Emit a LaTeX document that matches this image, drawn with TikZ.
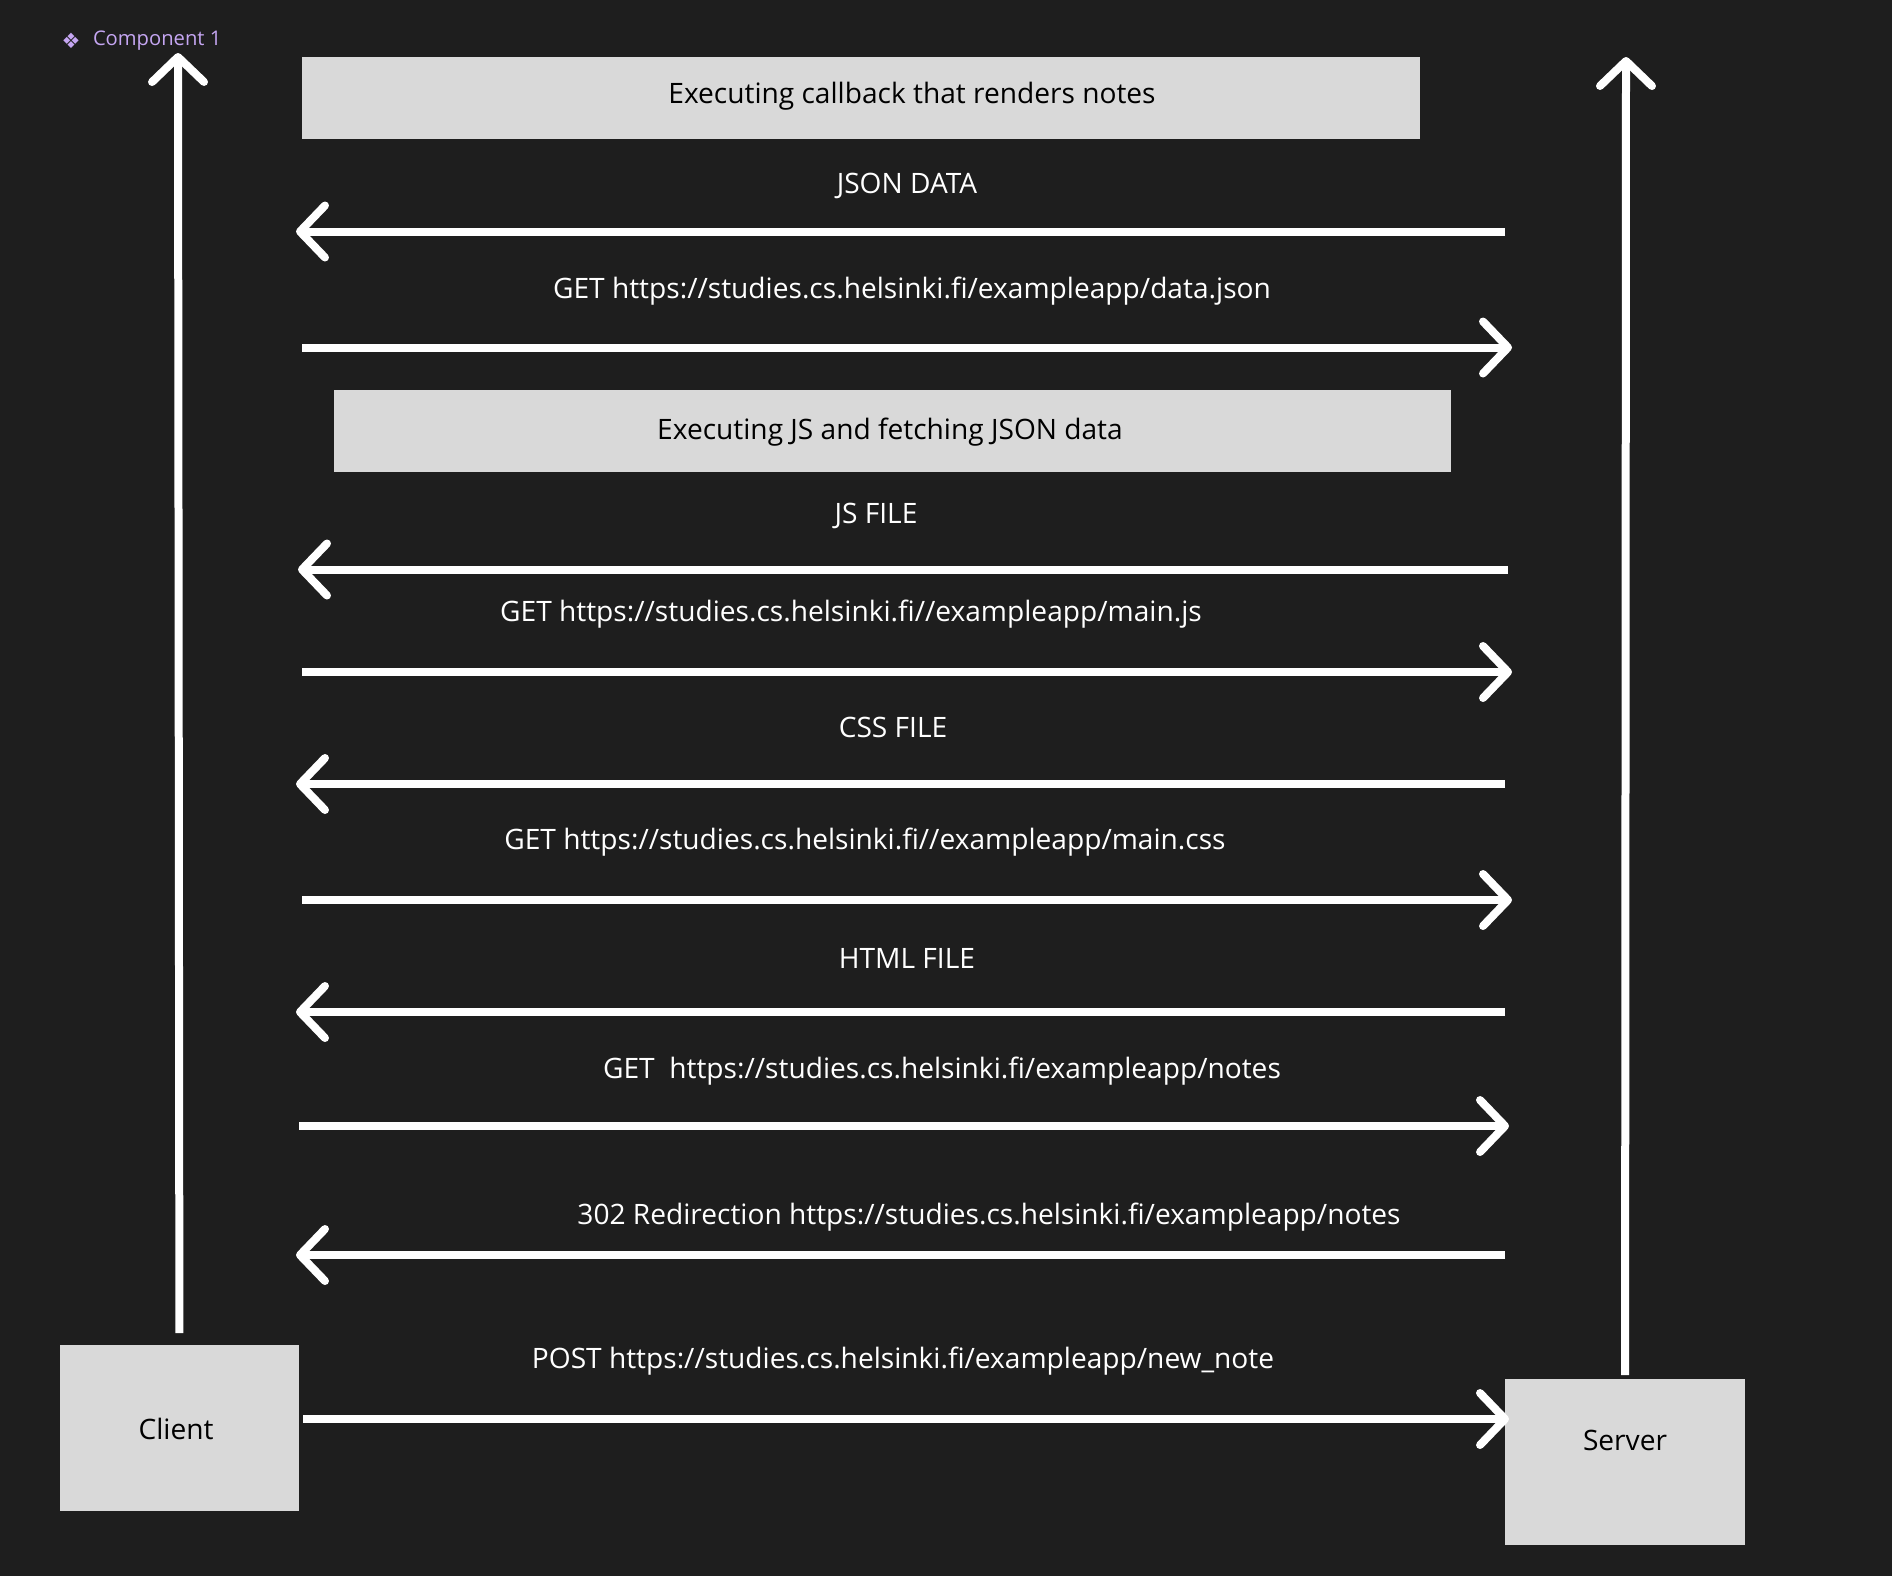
\documentclass[tikz,border=0pt]{standalone}
\usepackage{fontspec}
\setmainfont{Open Sans}
\newfontfamily\symfont{DejaVu Sans}
\usetikzlibrary{arrows.meta}
\definecolor{canvas}{HTML}{1E1E1E}
\definecolor{boxgrey}{HTML}{D9D9D9}
\definecolor{compviolet}{HTML}{C5A6F2}

\begin{document}
\begin{tikzpicture}[x=0.02cm,y=-0.02cm,
    >={Straight Barb[length=0.5cm,width=1.04cm,round]},
    line width=0.16cm,
    party/.style={fill=boxgrey,text=black,minimum width=4.8cm,minimum height=3.32cm,inner sep=0pt},
    banner/.style={fill=boxgrey,text=black,minimum width=22.36cm,minimum height=1.64cm,inner sep=0pt},
    msg/.style={text=white,inner sep=0pt},
    every node/.style={font=\fontsize{16}{19}\selectfont}]
    \fill[canvas] (0,0) rectangle (1892,1576);
    \useasboundingbox (0,0) rectangle (1892,1576);

    \node[party]  (client) at (179.5,1428) {};
    \node[party]  (server) at (1625,1462) {};
    \node[text=black,inner sep=0pt] (clientlabel) at (176,1429) {Client};
    \node[text=black,inner sep=0pt] (serverlabel) at (1625,1440) {Server};
    \node[banner] (render) at (861,98)  {};
    \node[banner] (fetch)  at (892.5,430.5) {};
    \node[text=black,inner sep=0pt] (renderlabel) at (912,96.5) {Executing callback that renders notes};
    \node[text=black,inner sep=0pt] (fetchlabel) at (890,432) {Executing JS and fetching JSON data};

    \node[text=compviolet,inner sep=0pt,font=\symfont\fontsize{12}{14}\selectfont] (compicon) at (71,41) {❖};
    \node[text=compviolet,inner sep=0pt,font=\fontsize{11.5}{14}\selectfont,anchor=west] (complabel) at (89,41) {Component 1};

    \node[msg] (jsondata) at (907,186)   {JSON DATA};
    \node[msg] (getdata)  at (912,291)   {GET https://studies.cs.helsinki.fi/exampleapp/data.json};
    \node[msg] (jsfile)   at (876,516)   {JS FILE};
    \node[msg] (getjs)    at (851,614)   {GET https://studies.cs.helsinki.fi//exampleapp/main.js};
    \node[msg] (cssfile)  at (893,727.5) {CSS FILE};
    \node[msg] (getcss)   at (865,842)   {GET https://studies.cs.helsinki.fi//exampleapp/main.css};
    \node[msg] (htmlfile) at (907,958)   {HTML FILE};
    \node[msg] (getnotes) at (942,1071.5) {GET\ \ https://studies.cs.helsinki.fi/exampleapp/notes};
    \node[msg] (redirect) at (989,1217)  {302 Redirection https://studies.cs.helsinki.fi/exampleapp/notes};
    \node[msg] (postnote) at (903,1361)  {POST https://studies.cs.helsinki.fi/exampleapp/new\_note};

    \coordinate (clienttop) at (178,53);
    \coordinate (servertop) at (1626,57);
    \coordinate (jsonR) at (1505,231.5);  \coordinate (jsonL) at (296,231.5);
    \coordinate (dataL) at (302,347.5);   \coordinate (dataR) at (1512,347.5);
    \coordinate (jsR)   at (1508,569.5);  \coordinate (jsL)   at (298,569.5);
    \coordinate (mjsL)  at (302,672);     \coordinate (mjsR)  at (1512,672);
    \coordinate (cssR)  at (1505,784);    \coordinate (cssL)  at (296,784);
    \coordinate (mcssL) at (302,900);     \coordinate (mcssR) at (1512,900);
    \coordinate (htmlR) at (1505,1012);   \coordinate (htmlL) at (296,1012);
    \coordinate (notesL) at (299,1126);   \coordinate (notesR) at (1509,1126);
    \coordinate (redirR) at (1505,1255);  \coordinate (redirL) at (296,1255);
    \coordinate (postR) at (1509,1419);

    \draw[white,->,shorten <=0.16cm] (client) -- (clienttop);
    \draw[white,->] (server) -- (servertop);

    \path[->,white]
    (jsonR)  edge (jsonL)
    (dataL)  edge (dataR)
    (jsR)    edge (jsL)
    (mjsL)   edge (mjsR)
    (cssR)   edge (cssL)
    (mcssL)  edge (mcssR)
    (htmlR)  edge (htmlL)
    (notesL) edge (notesR)
    (redirR) edge (redirL)
    (client.east |- postR) edge (postR)
    ;
\end{tikzpicture}
\end{document}
